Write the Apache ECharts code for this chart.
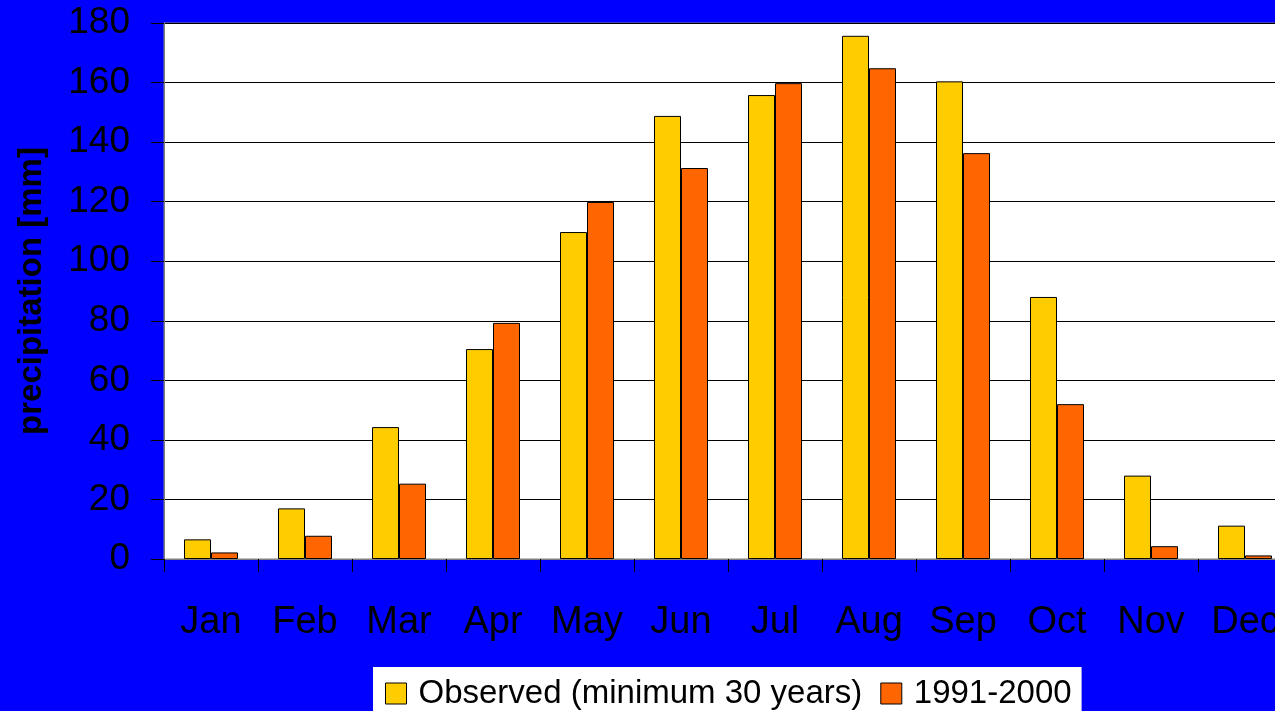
<!DOCTYPE html>
<html>
<head>
<meta charset="utf-8">
<script src="https://cdn.jsdelivr.net/npm/echarts@6/dist/echarts.min.js"></script>
<style>
html,body{margin:0;padding:0;background:#0000FF;overflow:hidden;width:1275px;height:711px;}
#chart{width:1293px;height:711px;}
</style>
</head>
<body>
<div id="chart"></div>
<script>
const months = ['Jan','Feb','Mar','Apr','May','Jun','Jul','Aug','Sep','Oct','Nov','Dec'];
const observed = [6.6, 17.0, 44.3, 70.5, 109.8, 148.8, 155.8, 175.7, 160.4, 88.0, 28.0, 11.2];
const decade = [2.2, 7.8, 25.3, 79.3, 119.9, 131.3, 159.8, 164.8, 136.3, 52.0, 4.3, 1.2];
const seriesNames = ['Observed (minimum 30 years)', '1991-2000'];
const yAxisName = 'precipitation [mm]';

const chart = echarts.init(document.getElementById('chart'));
const FONT = 'Liberation Sans, Arial, sans-serif';
chart.setOption({
  animation: false,
  backgroundColor: '#0000FF',
  grid: {
    left: 164, top: 23, right: 1, bottom: 152,
    show: true, backgroundColor: '#FFFFFF', borderColor: '#808080', borderWidth: 1
  },
  legend: {
    top: 667, left: 373,
    backgroundColor: '#FFFFFF',
    padding: [10, 10, 20, 12],
    itemWidth: 21, itemHeight: 21, itemGap: 18,
    textStyle: { fontFamily: FONT, fontSize: 33, color: '#000', padding: [0, 0, 0, 7] },
    itemStyle: { borderColor: '#000', borderWidth: 1 },
    icon: 'rect',
    data: seriesNames
  },
  xAxis: {
    type: 'category',
    data: months,
    axisLine: { show: true, lineStyle: { color: '#808080', width: 1 } },
    axisTick: { show: true, inside: false, length: 13, lineStyle: { color: '#000' } },
    axisLabel: { fontFamily: FONT, fontSize: 38, color: '#000', margin: 45, interval: 0 },
    splitLine: { show: false }
  },
  yAxis: {
    type: 'value',
    min: 0, max: 180, interval: 20,
    name: yAxisName,
    nameLocation: 'middle',
    nameGap: 116,
    nameTextStyle: { fontFamily: FONT, fontSize: 33, fontWeight: 'bold', color: '#000' },
    axisLine: { show: true, lineStyle: { color: '#808080', width: 1 } },
    axisTick: { show: true, inside: false, length: 13, lineStyle: { color: '#000' } },
    axisLabel: { fontFamily: FONT, fontSize: 37, color: '#000', margin: 34 },
    splitLine: { show: true, lineStyle: { color: '#000', width: 1 } }
  },
  series: [
    {
      name: seriesNames[0], type: 'bar', data: observed,
      barWidth: 27, barGap: '0%',
      itemStyle: { color: '#FFCC00', borderColor: '#000', borderWidth: 1 }
    },
    {
      name: seriesNames[1], type: 'bar', data: decade,
      barWidth: 27, barGap: '0%',
      itemStyle: { color: '#FF6600', borderColor: '#000', borderWidth: 1 }
    }
  ]
});
</script>
</body>
</html>
